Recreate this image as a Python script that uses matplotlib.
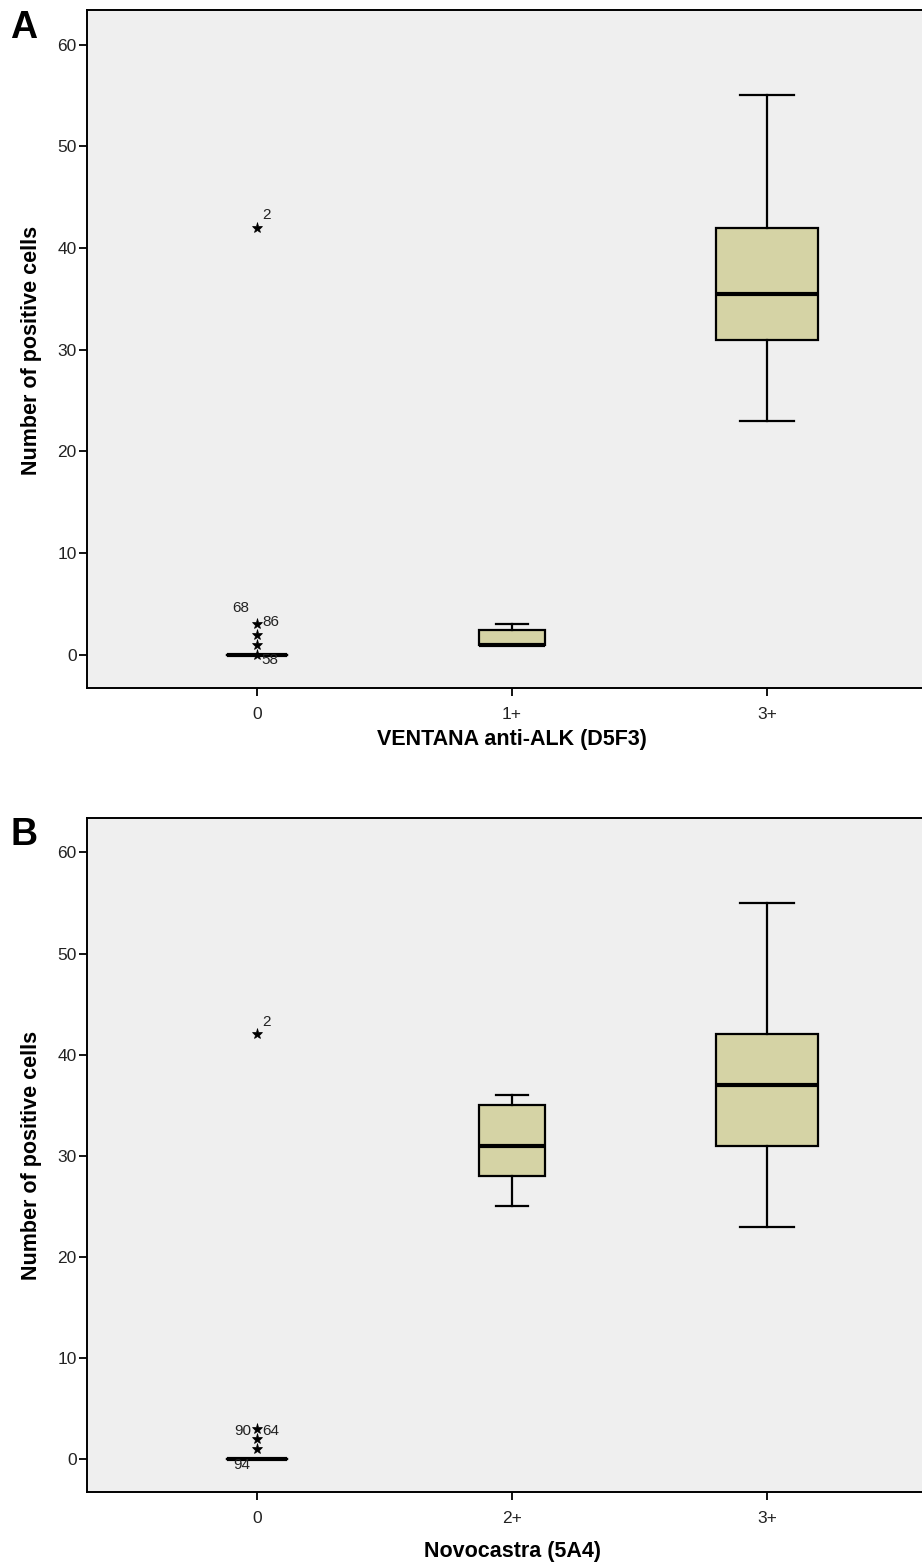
import matplotlib
matplotlib.use("Agg")
import matplotlib.pyplot as plt

plt.rcParams['font.family'] = ['Liberation Sans', 'DejaVu Sans']

# ---- data ----
cats_a = ["0", "1+", "3+"]
cats_b = ["0", "2+", "3+"]
# per group: whislo, q1, med, q3, whishi
whislo_a = [0, 1, 23]
q1_a = [0, 1, 31]
med_a = [0, 1, 35.5]
q3_a = [0, 2.5, 42]
whishi_a = [0, 3, 55]
fliers_a = [[42, 3, 2, 1, 0], [], []]
flier_labels_a = [("2", 42), ("68", 3), ("86", 3), ("58", 0)]

whislo_b = [0, 25, 23]
q1_b = [0, 28, 31]
med_b = [0, 31, 37]
q3_b = [0, 35, 42]
whishi_b = [0, 36, 55]
fliers_b = [[42, 3, 2, 1], [], []]
flier_labels_b = [("2", 42), ("90", 2.5), ("64", 2.5), ("94", 0)]

yticks = [0, 10, 20, 30, 40, 50, 60]

BOX = "#d5d3a5"
BG = "#efefef"

fig = plt.figure(figsize=(9.22, 15.64), dpi=100)
W = 922.0; H = 1564.0
axA = fig.add_axes([87 / W, 1 - 688 / H, 850 / W, 678 / H])
axB = fig.add_axes([87 / W, 1 - 1492 / H, 850 / W, 674 / H])

widths = [0.235, 0.255, 0.40]
capw = [0.235, 0.125, 0.21]


def draw(ax, cats, wl, q1, md, q3, wh, fl, labels, xlabel, offsets):
    stats = []
    for i in range(len(cats)):
        stats.append(dict(whislo=wl[i], q1=q1[i], med=md[i], q3=q3[i],
                          whishi=wh[i], fliers=fl[i], label=cats[i]))
    ax.bxp(stats, positions=range(len(cats)), widths=widths, capwidths=capw,
           patch_artist=True, showfliers=True,
           boxprops=dict(facecolor=BOX, edgecolor="black", linewidth=1.6),
           medianprops=dict(color="black", linewidth=3),
           whiskerprops=dict(color="black", linewidth=1.6),
           capprops=dict(color="black", linewidth=1.6),
           flierprops=dict(marker="*", markersize=8, markeredgecolor="black",
                           markerfacecolor="black", markeredgewidth=0.5, linestyle="none"))
    for (lab, yv), (dx, dy, ha) in zip(labels, offsets):
        ax.annotate(lab, (0, yv), xytext=(dx, dy), textcoords="offset points",
                    ha=ha, va="center", fontsize=11, color="#222222")
    ax.set_facecolor(BG)
    ax.set_xlim(-0.667, 2.667)
    ax.set_ylim(-3.25, 63.4)
    ax.set_yticks(yticks)
    ax.set_xticks(range(len(cats)))
    ax.set_xticklabels(cats)
    ax.tick_params(axis="both", direction="out", length=6, width=1.3,
                   labelsize=12.5, colors="black", labelcolor="#222222", pad=1.5)
    ax.tick_params(axis="x", pad=8)
    for s in ax.spines.values():
        s.set_linewidth(1.4)
    ax.set_ylabel("Number of positive cells", fontsize=15.5, fontweight="bold")
    ax.set_xlabel(xlabel, fontsize=15.5, fontweight="bold")


draw(axA, cats_a, whislo_a, q1_a, med_a, q3_a, whishi_a, fliers_a, flier_labels_a,
     "VENTANA anti-ALK (D5F3)",
     [(7, 9, "center"), (-12, 12, "center"), (10, 2, "center"), (9, -4, "center")])
draw(axB, cats_b, whislo_b, q1_b, med_b, q3_b, whishi_b, fliers_b, flier_labels_b,
     "Novocastra (5A4)",
     [(7, 9, "center"), (-10, 2, "center"), (10, 2, "center"), (-11, -4, "center")])

# label positions (pixel-based)
axA.xaxis.set_label_coords((512 - 87) / 850, -(740 - 688) / 678)
axA.xaxis.label.set_va("center")
axB.xaxis.set_label_coords((512 - 87) / 850, -(1551 - 1492) / 674)
axB.xaxis.label.set_va("center")
axA.yaxis.set_label_coords(-(87 - 32) / 850, (688 - 350) / 678)
axA.yaxis.label.set_va("center")
axB.yaxis.set_label_coords(-(87 - 32) / 850, (1492 - 1155) / 674)
axB.yaxis.label.set_va("center")

fig.text(10 / W, 1 - 28 / H, "A", fontsize=27, fontweight="bold", va="center", ha="left")
fig.text(10 / W, 1 - 835 / H, "B", fontsize=27, fontweight="bold", va="center", ha="left")

fig.savefig("out.png", dpi=100, facecolor="white")
